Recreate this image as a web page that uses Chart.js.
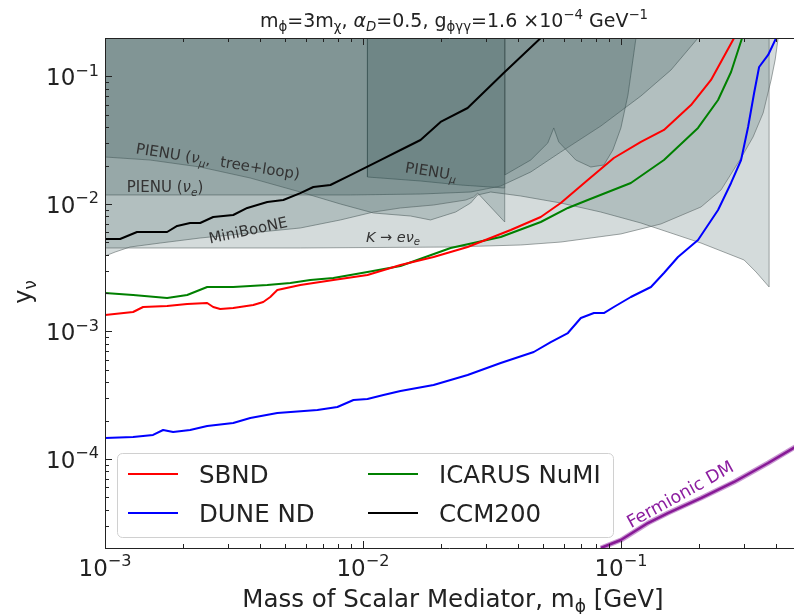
<!DOCTYPE html>
<html>
<head>
<meta charset="utf-8">
<script src="https://cdn.jsdelivr.net/npm/chart.js@4.4.1/dist/chart.umd.min.js"></script>
<style>
  html, body { margin: 0; padding: 0; background: #fff; }
  #wrap { width: 794px; height: 614px; }
</style>
</head>
<body>
<div id="wrap"><canvas id="c" width="794" height="614"></canvas></div>
<script>
// axis ranges
const xMin = 1e-3, xMax = 0.469, yMin = 2e-5, yMax = 0.2;
const xMajor = [1e-3, 1e-2, 1e-1];
const xMajorExp = ['\u22123', '\u22122', '\u22121'];
const yMajor = [1e-4, 1e-3, 1e-2, 1e-1];
const yMajorExp = ['\u22124', '\u22123', '\u22122', '\u22121'];

// excluded regions (lower boundary, filled up to the top)
const keX = [1e-3, 5.72e-3, 2.19e-2, 4.09e-2, 5.85e-2, 0.100, 0.143, 0.2045, 0.2445, 0.2924, 0.3255, 0.356, 0.3823, 0.3963, 0.4071];
const keY = [4.51e-3, 4.51e-3, 4.59e-3, 4.76e-3, 5.02e-3, 5.81e-3, 6.96e-3, 9.46e-3, 1.285e-2, 2.29e-2, 3.35e-2, 5.16e-2, 9.37e-2, 0.1344, 0.2];

const mbX = [1e-3, 1.094e-3, 1.25e-3, 1.636e-3, 2.338e-3, 3.657e-3, 5.718e-3, 8.177e-3, 1.099e-2, 1.398e-2, 1.878e-2, 2.501e-2, 2.686e-2, 2.785e-2, 3.128e-2, 3.545e-2, 3.545e-2];
const mbY = [3.90e-3, 4.19e-3, 4.59e-3, 4.93e-3, 5.40e-3, 5.91e-3, 6.47e-3, 7.48e-3, 8.63e-3, 9.29e-3, 9.80e-3, 1.072e-2, 1.132e-2, 1.216e-2, 9.46e-3, 7.21e-3, 0.2];

const numuX = [1e-3, 1.496e-3, 2.338e-3, 3.657e-3, 5.718e-3, 8.177e-3, 1.099e-2, 1.53e-2, 1.828e-2, 2.287e-2, 2.615e-2, 2.785e-2, 3.128e-2, 4.09e-2, 5.848e-2, 8.362e-2, 0.1196, 0.2045, 0.3004, 0.3344, 0.3756, 0.3756];
const numuY = [2.332e-2, 2.208e-2, 1.946e-2, 1.596e-2, 1.239e-2, 9.98e-3, 8.48e-3, 8.03e-3, 7.48e-3, 8.63e-3, 1.016e-2, 1.175e-2, 1.239e-2, 1.153e-2, 1.016e-2, 8.63e-3, 7.08e-3, 4.93e-3, 3.63e-3, 2.92e-3, 2.23e-3, 0.2];

const nueX = [1e-3, 8.944e-3, 1.672e-2, 2.615e-2, 3.42e-2, 4.472e-2, 5.848e-2, 8.362e-2, 0.1196, 0.1564, 0.1991];
const nueY = [1.175e-2, 1.175e-2, 1.195e-2, 1.239e-2, 1.381e-2, 1.778e-2, 2.552e-2, 4.08e-2, 7.02e-2, 0.1122, 0.2];

const spikeX = [3.545e-2, 3.545e-2, 4.472e-2, 5.206e-2, 5.493e-2, 5.744e-2, 6.687e-2, 7.646e-2, 8.59e-2, 9.31e-2, 0.100, 0.1065, 0.1113, 0.1144];
const spikeY = [0.2, 1.684e-2, 2.208e-2, 3.00e-2, 3.94e-2, 3.06e-2, 2.208e-2, 1.946e-2, 2.018e-2, 2.646e-2, 3.94e-2, 7.14e-2, 0.1344, 0.2];

const pienuMuX = [1.041e-2, 1.041e-2, 1.672e-2, 2.391e-2, 3.545e-2, 3.545e-2];
const pienuMuY = [0.2, 1.625e-2, 1.512e-2, 1.406e-2, 1.332e-2, 0.2];

// sensitivity curves
const sbndX = [1e-3, 1.285e-3, 1.405e-3, 1.741e-3, 2.082e-3, 2.490e-3, 2.627e-3, 2.797e-3, 3.141e-3, 3.756e-3, 4.108e-3, 4.373e-3, 4.656e-3, 5.718e-3, 7.68e-3, 1.041e-2, 1.398e-2, 1.878e-2, 2.546e-2, 3.74e-2, 4.89e-2, 5.848e-2, 7.44e-2, 9.39e-2, 0.1196, 0.1469, 0.1870, 0.2236, 0.2747];
const sbndY = [1.344e-3, 1.419e-3, 1.553e-3, 1.581e-3, 1.639e-3, 1.670e-3, 1.553e-3, 1.498e-3, 1.526e-3, 1.610e-3, 1.700e-3, 1.861e-3, 2.111e-3, 2.310e-3, 2.529e-3, 2.768e-3, 3.316e-3, 3.832e-3, 4.59e-3, 6.24e-3, 7.89e-3, 1.016e-2, 1.538e-2, 2.290e-2, 3.06e-2, 3.80e-2, 5.96e-2, 9.37e-2, 0.2];

const icarusX = [1e-3, 1.285e-3, 1.741e-3, 2.082e-3, 2.490e-3, 3.141e-3, 4.257e-3, 5.23e-3, 6.25e-3, 7.68e-3, 1.041e-2, 1.398e-2, 2.187e-2, 3.42e-2, 4.89e-2, 6.23e-2, 7.44e-2, 0.1093, 0.1469, 0.1991, 0.2381, 0.2674, 0.2951];
const icarusY = [2.00e-3, 1.929e-3, 1.827e-3, 1.929e-3, 2.229e-3, 2.229e-3, 2.310e-3, 2.395e-3, 2.529e-3, 2.622e-3, 2.92e-3, 3.257e-3, 4.51e-3, 5.50e-3, 7.21e-3, 9.29e-3, 1.072e-2, 1.459e-2, 2.208e-2, 3.94e-2, 6.53e-2, 0.1082, 0.2];

const duneX = [1e-3, 1.285e-3, 1.536e-3, 1.680e-3, 1.837e-3, 2.138e-3, 2.490e-3, 3.141e-3, 3.657e-3, 4.656e-3, 6.66e-3, 7.96e-3, 9.19e-3, 1.041e-2, 1.201e-2, 1.398e-2, 1.878e-2, 2.546e-2, 3.42e-2, 4.594e-2, 5.348e-2, 6.23e-2, 6.995e-2, 7.86e-2, 8.59e-2, 9.39e-2, 0.1093, 0.1308, 0.1469, 0.1665, 0.1991, 0.2381, 0.2674, 0.2924, 0.3113, 0.3285, 0.3435, 0.3723, 0.3999];
const duneY = [1.458e-4, 1.485e-4, 1.540e-4, 1.685e-4, 1.625e-4, 1.685e-4, 1.811e-4, 1.912e-4, 2.092e-4, 2.289e-4, 2.417e-4, 2.552e-4, 2.895e-4, 2.949e-4, 3.170e-4, 3.407e-4, 3.797e-4, 4.548e-4, 5.649e-4, 6.891e-4, 8.253e-4, 9.71e-4, 1.273e-3, 1.393e-3, 1.393e-3, 1.553e-3, 1.861e-3, 2.229e-3, 2.870e-3, 3.832e-3, 5.21e-3, 8.95e-3, 1.459e-2, 2.208e-2, 4.01e-2, 7.41e-2, 0.1185, 0.1472, 0.2];

const ccmX = [1e-3, 1.144e-3, 1.331e-3, 1.741e-3, 1.904e-3, 2.138e-3, 2.338e-3, 2.627e-3, 3.141e-3, 3.561e-3, 4.257e-3, 4.912e-3, 5.718e-3, 6.423e-3, 7.478e-3, 8.944e-3, 1.169e-2, 1.399e-2, 1.672e-2, 2.0e-2, 2.546e-2, 3.513e-2, 4.889e-2];
const ccmY = [5.30e-3, 5.30e-3, 6.02e-3, 6.02e-3, 6.71e-3, 7.08e-3, 7.08e-3, 7.89e-3, 8.18e-3, 9.29e-3, 1.034e-2, 1.072e-2, 1.216e-2, 1.356e-2, 1.406e-2, 1.684e-2, 2.208e-2, 2.646e-2, 3.17e-2, 4.39e-2, 5.65e-2, 0.1063, 0.2];

const fermX = [8.362e-2, 0.100, 0.1273, 0.1522, 0.2045, 0.2747, 0.3723, 0.474];
const fermY = [2.0e-5, 2.31e-5, 3.14e-5, 3.76e-5, 4.93e-5, 6.59e-5, 9.28e-5, 1.239e-4];

const legendItems = [['SBND', 'red'], ['DUNE ND', 'blue'], ['ICARUS NuMI', 'green'], ['CCM200', 'black']];

const SHADE = 'rgba(40,75,75,0.2)';
const EDGE = 'rgba(95,105,105,0.6)';
const FONT = '"DejaVu Sans", "Liberation Sans", sans-serif';

function pts(xs, ys) { return xs.map((x, i) => ({ x, y: ys[i] })); }

function region(label, xs, ys) {
  return { label, data: pts(xs, ys), fill: 'end', backgroundColor: SHADE, borderColor: EDGE,
    borderWidth: 1, pointRadius: 0, tension: 0, order: 10 };
}
function curve(label, xs, ys, color, w, ord) {
  return { label, data: pts(xs, ys), fill: false, borderColor: color, borderWidth: w,
    pointRadius: 0, tension: 0, order: ord, borderJoinStyle: 'round' };
}

// draw text made of pieces: [text, kind] kind: '', 'i', 'sub', 'isub', 'sup'
function rich(ctx, parts, x, y, size, align) {
  const segs = parts.map(([t, k]) => {
    const small = (k === 'sub' || k === 'isub' || k === 'sup');
    const it = (k === 'i' || k === 'isub');
    const f = (it ? 'italic ' : '') + (small ? size * 0.7 : size) + 'px ' + FONT;
    ctx.font = f;
    const dy = (k === 'sub' || k === 'isub') ? size * 0.22 : (k === 'sup' ? -size * 0.42 : 0);
    return { t, f, w: ctx.measureText(t).width, dy };
  });
  const total = segs.reduce((a, s) => a + s.w, 0);
  let cx = align === 'center' ? x - total / 2 : (align === 'right' ? x - total : x);
  ctx.textAlign = 'left';
  ctx.textBaseline = 'alphabetic';
  for (const s of segs) { ctx.font = s.f; ctx.fillText(s.t, cx, y + s.dy); cx += s.w; }
}
function richRot(ctx, parts, cx, cy, size, deg, color) {
  ctx.save();
  ctx.translate(cx, cy);
  ctx.rotate(deg * Math.PI / 180);
  ctx.fillStyle = color;
  rich(ctx, parts, 0, size * 0.35, size, 'center');
  ctx.restore();
}

const decor = {
  id: 'decor',
  afterDraw(chart) {
    const ctx = chart.ctx, a = chart.chartArea;
    const xs = chart.scales.x, ys = chart.scales.y;
    ctx.save();

    // region labels
    const g = '#333';
    richRot(ctx, [['PIENU (', ''], ['\u03bd', 'i'], ['\u03bc', 'isub'], [',  tree+loop)', '']], 218, 161, 15, 9, g);
    richRot(ctx, [['PIENU (', ''], ['\u03bd', 'i'], ['e', 'isub'], [')', '']], 165, 187, 15, 0, g);
    richRot(ctx, [['MiniBooNE', '']], 248, 230, 15, -12, g);
    richRot(ctx, [['PIENU', ''], ['\u03bc', 'isub']], 431, 171, 15, 9, g);
    richRot(ctx, [['K', 'i'], [' \u2192 ', ''], ['e\u03bd', 'i'], ['e', 'isub']], 393, 237, 14.5, 0, g);
    richRot(ctx, [['Fermionic DM', '']], 680, 494, 17.5, -29, 'rgb(140,30,160)');

    // spines
    ctx.strokeStyle = '#222';
    ctx.lineWidth = 1;
    ctx.beginPath();
    ctx.moveTo(a.left + 0.5, a.top); ctx.lineTo(a.left + 0.5, a.bottom);
    ctx.moveTo(a.left, a.bottom + 0.5); ctx.lineTo(a.right, a.bottom + 0.5);
    ctx.moveTo(a.left, a.top + 0.5); ctx.lineTo(a.right, a.top + 0.5);
    ctx.stroke();

    // ticks (inward)
    ctx.beginPath();
    for (let n = -3; n <= 0; n++) {
      for (let k = 1; k <= 9; k++) {
        const v = k * Math.pow(10, n);
        if (v < xMin * 0.999 || v > xMax) continue;
        const px = Math.round(xs.getPixelForValue(v)) + 0.5;
        const L = k === 1 ? 7 : 4;
        ctx.moveTo(px, a.bottom); ctx.lineTo(px, a.bottom - L);
        ctx.moveTo(px, a.top); ctx.lineTo(px, a.top + L);
      }
    }
    for (let n = -5; n <= -1; n++) {
      for (let k = 1; k <= 9; k++) {
        const v = k * Math.pow(10, n);
        if (v < yMin * 0.999 || v > yMax * 1.001) continue;
        const py = Math.round(ys.getPixelForValue(v)) + 0.5;
        const L = k === 1 ? 7 : 4;
        ctx.moveTo(a.left, py); ctx.lineTo(a.left + L, py);
      }
    }
    ctx.stroke();

    // tick labels
    ctx.fillStyle = '#222';
    xMajor.forEach((v, i) => {
      rich(ctx, [['10', ''], [xMajorExp[i], 'sup']], xs.getPixelForValue(v), 576, 23, 'center');
    });
    yMajor.forEach((v, i) => {
      rich(ctx, [['10', ''], [yMajorExp[i], 'sup']], a.left - 6, ys.getPixelForValue(v) + 9, 23, 'right');
    });

    // axis titles
    rich(ctx, [['Mass of Scalar Mediator, m', ''], ['\u03d5', 'sub'], [' [GeV]', '']], 453, 607, 24.5, 'center');
    ctx.save();
    ctx.translate(31, 292);
    ctx.rotate(-Math.PI / 2);
    rich(ctx, [['y', ''], ['\u03bd', 'sub']], 0, 0, 24, 'center');
    ctx.restore();

    // title
    rich(ctx, [['m', ''], ['\u03d5', 'sub'], ['=3m', ''], ['\u03c7', 'sub'], [', ', ''], ['\u03b1', 'i'], ['D', 'isub'],
      ['=0.5, g', ''], ['\u03d5\u03b3\u03b3', 'sub'], ['=1.6 \u00d710', ''], ['\u22124', 'sup'], [' GeV', ''], ['\u22121', 'sup']],
      454, 27, 19, 'center');

    // legend
    const bx = 117, by = 453, bw = 496, bh = 84;
    ctx.beginPath();
    ctx.roundRect(bx + 0.5, by + 0.5, bw, bh, 5);
    ctx.fillStyle = 'rgba(255,255,255,0.82)';
    ctx.fill();
    ctx.strokeStyle = '#d0d0d0';
    ctx.lineWidth = 1;
    ctx.stroke();
    const cols = [128, 368], rows = [474, 513];
    legendItems.forEach(([name, color], i) => {
      const x0 = cols[Math.floor(i / 2)], y0 = rows[i % 2];
      ctx.strokeStyle = color;
      ctx.lineWidth = 2;
      ctx.beginPath(); ctx.moveTo(x0, y0); ctx.lineTo(x0 + 50, y0); ctx.stroke();
      ctx.fillStyle = '#222';
      rich(ctx, [[name, '']], x0 + 71, y0 + 9, 24.5, 'left');
    });
    ctx.restore();
  }
};

new Chart(document.getElementById('c'), {
  type: 'line',
  data: {
    datasets: [
      region('K\u2192e\u03bde', keX, keY),
      region('MiniBooNE', mbX, mbY),
      region('PIENU nu_mu', numuX, numuY),
      region('PIENU nu_e', nueX, nueY),
      region('spike', spikeX, spikeY),
      region('PIENU_mu', pienuMuX, pienuMuY),
      curve('SBND', sbndX, sbndY, 'red', 2, 2),
      curve('ICARUS NuMI', icarusX, icarusY, 'green', 2, 3),
      curve('DUNE ND', duneX, duneY, 'blue', 2, 1),
      curve('CCM200', ccmX, ccmY, 'black', 2, 1),
      curve('Fermionic DM halo', fermX, fermY, 'rgba(195,140,205,0.9)', 5, 5),
      curve('Fermionic DM', fermX, fermY, 'rgb(135,25,150)', 2.5, 4)
    ]
  },
  options: {
    responsive: false,
    animation: false,
    layout: { padding: { left: 105, top: 38, right: 0, bottom: 66 } },
    plugins: { legend: { display: false }, tooltip: { enabled: false } },
    scales: {
      x: { type: 'logarithmic', min: xMin, max: xMax, display: false },
      y: { type: 'logarithmic', min: yMin, max: yMax, display: false }
    }
  },
  plugins: [decor]
});
</script>
</body>
</html>
